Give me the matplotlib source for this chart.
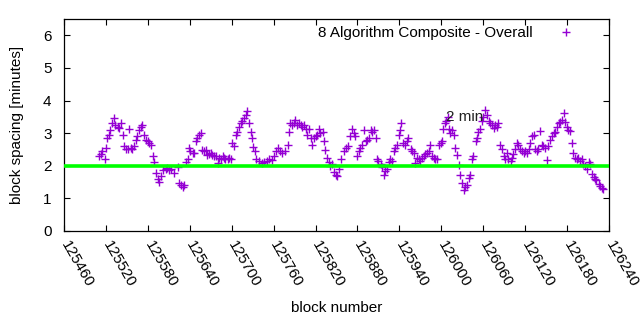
import matplotlib
matplotlib.use("Agg")
import matplotlib.pyplot as plt

plt.rcParams["font.family"] = ["Liberation Sans", "DejaVu Sans"]

# block number and block spacing [minutes]
blocks = [
    125510, 125513, 125515, 125518, 125520, 125521, 125524, 125526, 125529, 125531,
    125533, 125537, 125539, 125541, 125544, 125546, 125549, 125551, 125553, 125556,
    125558, 125560, 125563, 125565, 125568, 125570, 125572, 125575, 125577, 125580,
    125582, 125584, 125587, 125589, 125591, 125594, 125596, 125599, 125601, 125606,
    125608, 125610, 125613, 125618, 125623, 125625, 125627, 125630, 125632, 125634,
    125637, 125639, 125641, 125644, 125646, 125649, 125651, 125653, 125656, 125658,
    125660, 125663, 125665, 125668, 125670, 125672, 125675, 125677, 125680, 125682,
    125684, 125687, 125689, 125691, 125694, 125696, 125699, 125701, 125703, 125706,
    125708, 125710, 125713, 125715, 125718, 125720, 125722, 125725, 125727, 125729,
    125730, 125733, 125735, 125739, 125743, 125746, 125750, 125753, 125757, 125760,
    125764, 125766, 125769, 125772, 125776, 125780, 125782, 125784, 125787, 125789,
    125791, 125794, 125796, 125799, 125801, 125803, 125806, 125808, 125810, 125813,
    125815, 125818, 125820, 125822, 125825, 125827, 125830, 125832, 125834, 125837,
    125839, 125841, 125844, 125846, 125849, 125851, 125854, 125857, 125861, 125864,
    125867, 125870, 125872, 125875, 125877, 125880, 125882, 125884, 125887, 125889,
    125892, 125894, 125896, 125899, 125901, 125903, 125906, 125908, 125910, 125913,
    125915, 125918, 125920, 125922, 125925, 125927, 125930, 125932, 125934, 125937,
    125939, 125941, 125943, 125945, 125948, 125951, 125953, 125956, 125958, 125961,
    125963, 125965, 125968, 125970, 125972, 125975, 125977, 125980, 125982, 125984,
    125987, 125989, 125991, 125994, 125996, 125999, 126001, 126003, 126005, 126007,
    126009, 126011, 126013, 126015, 126018, 126020, 126022, 126025, 126027, 126030,
    126032, 126034, 126037, 126039, 126041, 126044, 126046, 126049, 126051, 126053,
    126056, 126058, 126060, 126063, 126065, 126068, 126070, 126072, 126075, 126077,
    126079, 126081, 126084, 126087, 126089, 126091, 126094, 126096, 126099, 126101,
    126103, 126106, 126108, 126110, 126113, 126115, 126118, 126120, 126122, 126125,
    126127, 126130, 126132, 126134, 126137, 126139, 126141, 126144, 126146, 126149,
    126151, 126153, 126156, 126158, 126161, 126163, 126165, 126168, 126170, 126172,
    126175, 126177, 126180, 126182, 126184, 126187, 126189, 126191, 126194, 126196,
    126199, 126201, 126203, 126206, 126208, 126211, 126213, 126215, 126218, 126220,
    126222, 126225, 126227, 126230, 126232,
]
spacing = [
    2.29, 2.35, 2.44, 2.20, 2.55, 2.85, 2.95, 3.11, 3.30, 3.46,
    3.25, 3.18, 3.15, 3.30, 2.95, 2.60, 2.52, 2.50, 3.13, 2.55,
    2.50, 2.60, 2.80, 2.90, 3.10, 3.20, 3.26, 2.95, 2.80, 2.75,
    2.70, 2.65, 2.29, 2.13, 1.77, 1.60, 1.51, 1.70, 1.87, 1.90,
    1.93, 1.87, 1.90, 1.77, 1.95, 1.47, 1.40, 1.36, 1.40, 2.13,
    2.20, 2.54, 2.45, 2.39, 2.39, 2.75, 2.85, 2.95, 3.00, 2.49,
    2.44, 2.49, 2.34, 2.35, 2.39, 2.34, 2.30, 2.29, 2.08, 2.25,
    2.20, 2.29, 2.25, 2.20, 2.20, 2.23, 2.20, 2.70, 2.60, 2.95,
    3.05, 3.20, 3.30, 3.36, 3.45, 3.57, 3.67, 3.31, 3.05, 2.85,
    2.59, 2.45, 2.20, 2.15, 2.10, 2.13, 2.15, 2.20, 2.18, 2.29,
    2.45, 2.54, 2.45, 2.39, 2.45, 2.64, 3.05, 3.31, 3.25, 3.30,
    3.41, 3.25, 3.30, 3.25, 3.20, 3.25, 3.13, 2.95, 3.13, 2.85,
    2.64, 2.85, 2.90, 2.95, 3.13, 3.00, 3.05, 2.75, 2.49, 2.23,
    2.13, 2.00, 2.05, 1.80, 1.72, 1.70, 1.90, 2.20, 2.45, 2.55,
    2.60, 2.90, 3.13, 3.00, 2.90, 2.30, 2.45, 2.55, 2.64, 3.10,
    2.75, 2.80, 2.85, 3.10, 3.05, 3.10, 2.85, 2.20, 2.15, 2.05,
    1.95, 1.72, 1.85, 1.90, 2.13, 2.20, 2.15, 2.45, 2.55, 2.64,
    2.95, 3.10, 3.31, 2.70, 2.64, 2.75, 2.85, 2.50, 2.45, 2.39,
    2.10, 2.25, 2.20, 2.15, 2.25, 2.30, 2.35, 2.40, 2.44, 2.64,
    2.30, 2.25, 2.20, 2.20, 2.64, 2.70, 2.75, 3.13, 3.30, 3.36,
    3.50, 3.13, 3.00, 3.10, 2.95, 2.54, 2.34, 2.03, 1.72, 1.47,
    1.26, 1.35, 1.40, 1.62, 1.72, 2.20, 2.29, 2.75, 2.85, 3.05,
    3.13, 3.36, 3.50, 3.72, 3.55, 3.36, 3.30, 3.25, 3.15, 3.26,
    3.20, 3.30, 2.64, 2.50, 2.30, 2.20, 2.40, 2.20, 2.15, 2.25,
    2.35, 2.50, 2.70, 2.65, 2.50, 2.45, 2.40, 2.45, 2.40, 2.50,
    2.70, 2.90, 2.95, 2.50, 2.45, 2.50, 3.06, 2.64, 2.60, 2.55,
    2.18, 2.60, 2.80, 2.90, 3.00, 3.05, 3.20, 3.30, 3.35, 3.40,
    3.62, 3.35, 3.20, 3.10, 3.06, 2.70, 2.40, 2.24, 2.20, 2.25,
    2.15, 2.20, 2.05, 2.00, 1.90, 2.13, 2.05, 1.75, 1.65, 1.60,
    1.55, 1.45, 1.38, 1.33, 1.30,
]
target = 2.0
x_ticks = list(range(125460, 126241, 60))
y_ticks = [0, 1, 2, 3, 4, 5, 6]

fig = plt.figure(figsize=(6.4, 3.3), dpi=100)
ax = fig.add_axes([0.1, 0.3, 0.8516, 0.6424])

ax.plot(blocks, spacing, ls="none", marker="+", ms=6, mew=1.0,
        color="#9400d3", label="8 Algorithm Composite - Overall")
ax.axhline(target, color="#00ff00", lw=2.6, zorder=3)
ax.text(126007, 3.5, "2 min", fontsize=11, ha="left", va="center",
        color="#222222")

ax.set_xlim(125460, 126240)
ax.set_ylim(0, 6.5)
ax.set_xticks(x_ticks)
ax.set_yticks(y_ticks)
ax.set_xticklabels([str(t) for t in x_ticks], rotation=-60, ha="left",
                   va="center", rotation_mode="anchor")
ax.tick_params(direction="in", top=True, right=True, length=4.5,
               width=0.8, labelsize=11, colors="black")
ax.tick_params(axis="y", pad=9)
ax.tick_params(axis="x", pad=8)
for s in ax.spines.values():
    s.set_linewidth(0.9)

ax.set_xlabel("block number", fontsize=11, labelpad=8)
ax.set_ylabel("block spacing [minutes]", fontsize=11, labelpad=14)

ax.legend(loc="upper right", bbox_to_anchor=(0.95, 0.965), frameon=False,
          markerfirst=False, fontsize=11, handlelength=2.0,
          handletextpad=1.2, borderaxespad=0, borderpad=0)

fig.savefig("out.png", dpi=100)
